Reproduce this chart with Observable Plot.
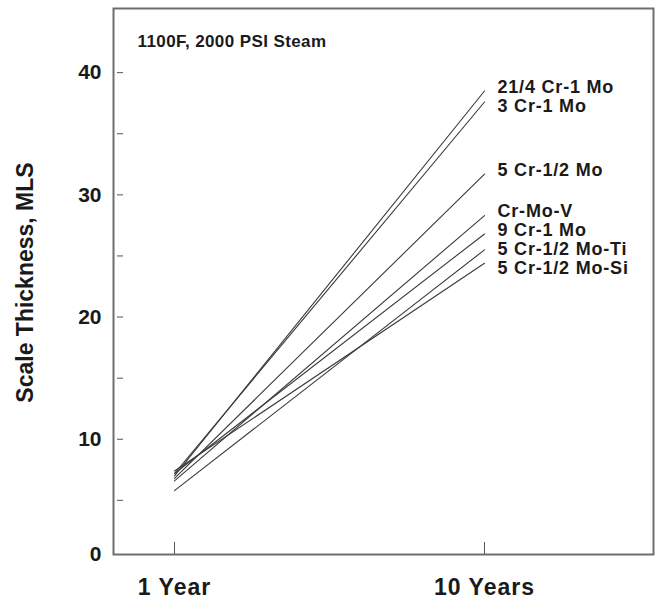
<!DOCTYPE html>
<html>
<head>
<meta charset="utf-8">
<script src="https://cdn.jsdelivr.net/npm/d3@7"></script>
<script src="https://cdn.jsdelivr.net/npm/@observablehq/plot@0.6"></script>
<style>
  html, body { margin: 0; padding: 0; background: #fff; }
  #chart svg { display: block; }
  .period-label text { letter-spacing: 1px; }
  .alloy-label text { letter-spacing: 0.8px; }
  .conditions text { letter-spacing: 0.4px; }
</style>
</head>
<body>
<div id="chart"></div>
<script>
// Oxide scale growth of alloy steels in 1100F, 2000 PSI steam
const periods = ["1 Year", "10 Years"];
const alloys = [
  "21/4 Cr-1 Mo",
  "3 Cr-1 Mo",
  "5 Cr-1/2 Mo",
  "Cr-Mo-V",
  "9 Cr-1 Mo",
  "5 Cr-1/2 Mo-Ti",
  "5 Cr-1/2 Mo-Si"
];
const thickness1Year  = [7.0, 7.2, 6.8, 6.6, 7.2, 5.8, 7.4];
const thickness10Year = [38.5, 37.6, 31.7, 28.3, 26.8, 25.5, 24.4];
const yMajorTicks = [0, 10, 20, 30, 40];
const yMinorTicks = [5, 15, 25, 35];
const conditions = "1100F, 2000 PSI Steam";

const rows = alloys.flatMap((alloy, i) => [
  {alloy, period: periods[0], mils: thickness1Year[i]},
  {alloy, period: periods[1], mils: thickness10Year[i]}
]);

const W = 655, H = 599;
const mL = 113, mR = 2, mT = 8, mB = 45;

// y scale (clamped so the "0" tick rests on the bottom edge of the frame)
const yDomain = [0.57, 45.25];
const yPix = d3.scaleLinear().domain(yDomain).range([H - mB, mT]);

// End labels: start just above each line's end, then push apart so they don't overlap
const gap = 19;
const ends = alloys.map((alloy, i) => ({alloy, py: yPix(thickness10Year[i]) - 4}));
ends.sort((a, b) => a.py - b.py);
for (let k = 1; k < ends.length; k++) {
  if (ends[k].py - ends[k - 1].py < gap) ends[k].py = ends[k - 1].py + gap;
}
const labels = ends.map(e => ({alloy: e.alloy, period: periods[1], pos: yPix.invert(e.py)}));

const font = "Liberation Sans, Arial, Helvetica, sans-serif";

const chart = Plot.plot({
  width: W,
  height: H,
  marginLeft: mL,
  marginRight: mR,
  marginTop: mT,
  marginBottom: mB,
  style: {fontFamily: font, background: "#fff", color: "#1a1a1a"},
  x: {type: "point", domain: periods, range: [174, 484], padding: 0},
  y: {domain: yDomain, clamp: true},
  marks: [
    Plot.frame({stroke: "#6e6e6e", strokeWidth: 2}),
    // y tick labels
    Plot.axisY({
      ticks: yMajorTicks, tickSize: 0, tickPadding: 12,
      fontSize: 21, fontWeight: "bold", fill: "#1a1a1a",
      label: null, tickFormat: d => String(d)
    }),
    // inward y tick marks
    Plot.axisY({
      ticks: [...yMajorTicks.slice(1), ...yMinorTicks], tickSize: -6, dx: 4,
      stroke: "#555", tickFormat: () => "", label: null
    }),
    // rotated y-axis title
    Plot.text(["Scale Thickness, MLS"], {
      frameAnchor: "left", textAnchor: "middle", rotate: -90, dx: -88, dy: 1,
      fontSize: 23, fontWeight: "bold", fill: "#1a1a1a"
    }),
    // x tick labels
    Plot.axisX({
      tickSize: 0, tickPadding: 24, className: "period-label",
      fontSize: 23, fontWeight: "bold", fill: "#1a1a1a", label: null
    }),
    // upward x tick marks
    Plot.axisX({tickSize: -12, stroke: "#555", tickFormat: () => "", label: null}),
    // scale growth lines
    Plot.line(rows, {x: "period", y: "mils", z: "alloy", stroke: "#3a3a3a", strokeWidth: 1.1}),
    // alloy labels at line ends
    Plot.text(labels, {
      x: "period", y: "pos", text: "alloy", className: "alloy-label",
      textAnchor: "start", dx: 13,
      fontSize: 18, fontWeight: "bold", fill: "#1a1a1a"
    }),
    // test conditions
    Plot.text([conditions], {
      frameAnchor: "top-left", dx: 24, dy: 26, textAnchor: "start", className: "conditions",
      fontSize: 17, fontWeight: "bold", fill: "#1a1a1a"
    })
  ]
});

document.getElementById("chart").append(chart);
</script>
</body>
</html>
